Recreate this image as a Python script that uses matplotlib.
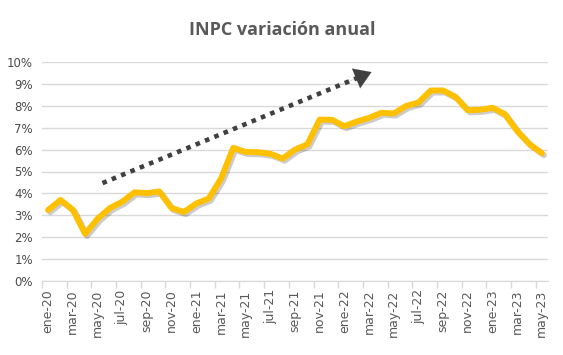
import matplotlib
matplotlib.use("Agg")
import matplotlib.pyplot as plt
import matplotlib.patheffects as pe
from matplotlib.ticker import FuncFormatter, FixedLocator

# meses ene-20 .. may-23
meses = ["ene", "feb", "mar", "abr", "may", "jun", "jul", "ago", "sep", "oct", "nov", "dic"]
labels = []
for a in ["20", "21", "22", "23"]:
    for m in meses:
        labels.append(m + "-" + a)
labels = labels[:41]

inpc = [3.24, 3.70, 3.25, 2.15, 2.84, 3.33, 3.62, 4.05, 4.01, 4.09, 3.33, 3.15,
        3.54, 3.76, 4.67, 6.08, 5.89, 5.88, 5.81, 5.59, 6.00, 6.24, 7.37, 7.36,
        7.07, 7.28, 7.45, 7.68, 7.65, 7.99, 8.15, 8.70, 8.70, 8.41, 7.80, 7.82,
        7.91, 7.62, 6.85, 6.25, 5.84]

gris = "#595959"

fig = plt.figure(figsize=(5.63, 3.55), dpi=100)
ax = fig.add_axes([42/563, 74/355, 506/563, 219/355])

x = list(range(len(inpc)))
ax.plot(x, inpc, color="#FFC000", lw=4.3, solid_joinstyle="round", solid_capstyle="round",
        path_effects=[pe.SimpleLineShadow(offset=(1.5, -1.5), shadow_color="black", alpha=0.2),
                      pe.Normal()], zorder=3)

# flecha de tendencia
x0, y0, x1, y1 = 4.4, 4.47, 26.2, 9.54
t = 0.95
ax.plot([x0, x0 + t * (x1 - x0)], [y0, y0 + t * (y1 - y0)], color="#404040", lw=3.3,
        linestyle=(0, (1, 1.2)), solid_capstyle="butt", zorder=4)
ax.annotate("", xy=(x1, y1), xytext=(x0 + 0.88 * (x1 - x0), y0 + 0.88 * (y1 - y0)),
            arrowprops=dict(arrowstyle="-|>,head_length=0.7,head_width=0.45", color="#404040",
                            lw=0.1, mutation_scale=17, shrinkA=0, shrinkB=0), zorder=4)

ax.set_xlim(-0.5, len(inpc) - 0.5)
ax.set_ylim(0, 10)
ax.set_yticks(range(0, 11))
ax.yaxis.set_major_formatter(FuncFormatter(lambda v, p: "%d%%" % v))
ax.grid(axis="y", color="#D9D9D9", lw=1)
ax.set_axisbelow(True)

ax.set_xticks(x[::2])
ax.set_xticklabels(labels[::2], rotation=90)
ax.xaxis.set_minor_locator(FixedLocator([i - 0.5 for i in range(0, len(inpc) + 1, 2)]))
ax.tick_params(axis="x", which="major", length=0, pad=6, labelsize=9, labelcolor=gris)
ax.tick_params(axis="x", which="minor", length=5, color="#D9D9D9", width=1)
ax.tick_params(axis="y", length=0, pad=6.5, labelsize=8.5, labelcolor="#4a4a4a")

for s in ["top", "right", "left"]:
    ax.spines[s].set_visible(False)
ax.spines["bottom"].set_color("#D9D9D9")

fig.text(282/563, 1 - 30/355, "INPC variación anual", ha="center", va="center",
         fontsize=13, fontweight="bold", color=gris, family="Open Sans")

fig.savefig("out.png", dpi=100)
